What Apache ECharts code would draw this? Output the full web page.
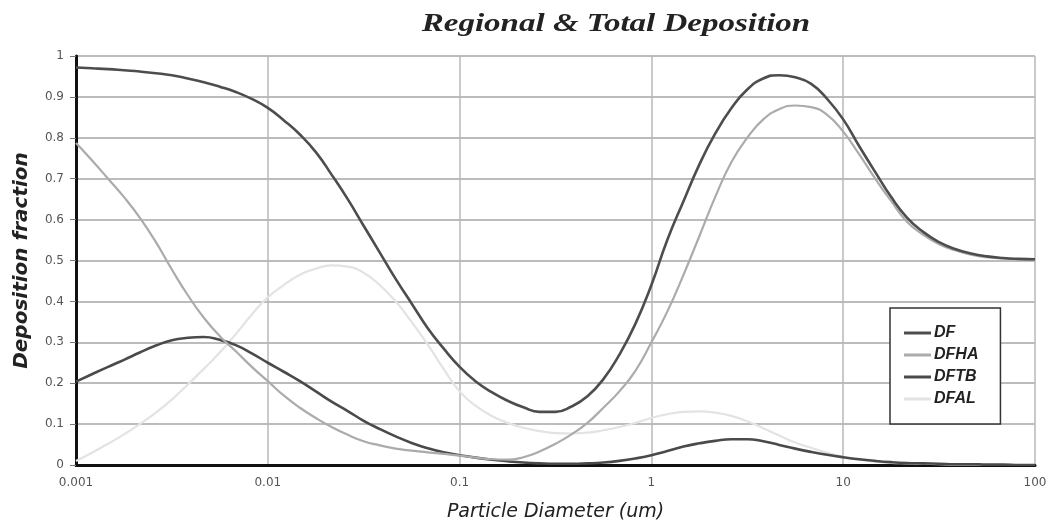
<!DOCTYPE html>
<html>
<head>
<meta charset="utf-8">
<script src="https://cdn.jsdelivr.net/npm/echarts@6/dist/echarts.min.js"></script>
<style>
html,body{margin:0;padding:0;background:#fff;}
#chart{width:1049px;height:524px;}
</style>
</head>
<body>
<div id="chart"></div>
<script>
// Particle diameters (um), read at evenly spaced log positions (1/12 decade)
const diameters = [
  0.001, 0.00121, 0.00147, 0.00178, 0.00215, 0.00261, 0.00316, 0.00383, 0.00464, 0.00562, 0.00681, 0.00825,
  0.01, 0.0121, 0.0147, 0.0178, 0.0215, 0.0261, 0.0316, 0.0383, 0.0464, 0.0562, 0.0681, 0.0825,
  0.1, 0.121, 0.147, 0.178, 0.215, 0.261, 0.316, 0.383, 0.464, 0.562, 0.681, 0.825,
  1, 1.21, 1.47, 1.78, 2.15, 2.61, 3.16, 3.83, 4.64, 5.62, 6.81, 8.25,
  10, 12.1, 14.7, 17.8, 21.5, 26.1, 31.6, 38.3, 46.4, 56.2, 68.1, 82.5, 100];
const DF = [
  0.972, 0.970, 0.968, 0.965, 0.962, 0.958, 0.953, 0.945, 0.936, 0.925, 0.912, 0.895,
  0.873, 0.843, 0.808, 0.765, 0.71, 0.65, 0.585, 0.52, 0.455, 0.395, 0.335, 0.285,
  0.24, 0.205, 0.178, 0.157, 0.141, 0.13, 0.13, 0.143, 0.168, 0.21, 0.27, 0.345,
  0.44, 0.55, 0.645, 0.735, 0.81, 0.872, 0.918, 0.945, 0.953, 0.948, 0.932, 0.895,
  0.845, 0.78, 0.716, 0.655, 0.605, 0.57, 0.545, 0.528, 0.517, 0.51, 0.506, 0.504, 0.503];
const DFHA = [
  0.787, 0.745, 0.70, 0.655, 0.605, 0.545, 0.478, 0.415, 0.36, 0.315, 0.278, 0.24,
  0.205, 0.17, 0.14, 0.115, 0.093, 0.074, 0.058, 0.048, 0.04, 0.035, 0.031, 0.027,
  0.023, 0.018, 0.014, 0.013, 0.019, 0.033, 0.052, 0.075, 0.103, 0.14, 0.18, 0.23,
  0.30, 0.375, 0.465, 0.56, 0.655, 0.74, 0.80, 0.845, 0.87, 0.879, 0.875, 0.856,
  0.815, 0.76, 0.70, 0.645, 0.595, 0.563, 0.54, 0.525, 0.514, 0.508, 0.505, 0.503, 0.502];
const DFTB = [
  0.204, 0.222, 0.24, 0.257, 0.275, 0.292, 0.305, 0.311, 0.313, 0.306, 0.293, 0.273,
  0.25, 0.228, 0.205, 0.18, 0.155, 0.132, 0.108, 0.088, 0.07, 0.054, 0.041, 0.031,
  0.024, 0.018, 0.013, 0.009, 0.006, 0.004, 0.003, 0.003, 0.004, 0.006, 0.01, 0.016,
  0.024, 0.034, 0.045, 0.053, 0.059, 0.063, 0.063, 0.058, 0.049, 0.04, 0.032, 0.025,
  0.019, 0.014, 0.01, 0.007, 0.005, 0.004, 0.003, 0.002, 0.002, 0.001, 0.001, 0, 0];
const DFAL = [
  0.01, 0.03, 0.052, 0.075, 0.1, 0.128, 0.16, 0.197, 0.235, 0.275, 0.32, 0.368,
  0.41, 0.44, 0.465, 0.48, 0.488, 0.485, 0.47, 0.44, 0.40, 0.35, 0.295, 0.235,
  0.18, 0.145, 0.12, 0.103, 0.091, 0.083, 0.078, 0.077, 0.079, 0.085, 0.093, 0.103,
  0.115, 0.124, 0.13, 0.131, 0.128, 0.12, 0.107, 0.09, 0.072, 0.055, 0.042, 0.03,
  0.02, 0.013, 0.008, 0.005, 0.004, 0.003, 0.002, 0.001, 0.001, 0, 0, 0, 0];
const seriesNames = ['DF', 'DFHA', 'DFTB', 'DFAL'];
const xTickLabels = {0.001: '0.001', 0.01: '0.01', 0.1: '0.1', 1: '1', 10: '10', 100: '100'};
const titleText = 'Regional & Total Deposition';

const pairs = arr => diameters.map((d, i) => [d, arr[i]]);
const colors = ['#4d4d4d', '#ababab', '#4a4a4a', '#e3e3e3'];
const widths = [2.6, 2.2, 2.6, 2.2];
const allData = [DF, DFHA, DFTB, DFAL];

const chart = echarts.init(document.getElementById('chart'));
chart.setOption({
  backgroundColor: '#fff',
  animation: false,
  graphic: [{
    type: 'text', x: 616, y: 25, scaleX: 1.32, scaleY: 1,
    style: {text: titleText, fill: '#222', textAlign: 'center', textVerticalAlign: 'middle',
      font: 'italic bold 25px "Liberation Serif"'}
  }],
  grid: {left: 76, right: 14, top: 56, bottom: 59, containLabel: false, outerBoundsMode: 'none'},
  legend: {
    orient: 'vertical', left: 890, top: 308,
    padding: [17, 22, 17, 14], itemGap: 6, itemWidth: 27, itemHeight: 3,
    icon: 'rect',
    backgroundColor: '#fff', borderColor: '#333', borderWidth: 1.5,
    textStyle: {fontFamily: 'Liberation Sans', fontStyle: 'italic', fontWeight: 'bold', fontSize: 16, color: '#222', padding: [0, 0, 0, -2], lineHeight: 16},
    data: seriesNames
  },
  xAxis: {
    type: 'log', logBase: 10, min: 0.001, max: 100,
    name: 'Particle Diameter (um)', nameLocation: 'middle', nameGap: 38,
    nameTextStyle: {fontFamily: 'DejaVu Sans', fontStyle: 'italic', fontSize: 19, color: '#222'},
    axisLine: {lineStyle: {color: '#111', width: 3}},
    axisTick: {show: false},
    axisLabel: {fontFamily: 'DejaVu Sans', fontSize: 12, color: '#555', margin: 12,
      formatter: v => xTickLabels[v] !== undefined ? xTickLabels[v] : String(v)},
    splitLine: {show: true, lineStyle: {color: '#b8b8b8', width: 1.5}},
    minorSplitLine: {show: false}
  },
  yAxis: {
    type: 'value', min: 0, max: 1, interval: 0.1,
    name: 'Deposition fraction', nameLocation: 'middle', nameGap: 44,
    nameTextStyle: {fontFamily: 'DejaVu Sans', fontStyle: 'italic', fontWeight: 'bold', fontSize: 20, color: '#222'},
    axisLine: {show: true, lineStyle: {color: '#111', width: 3}},
    axisTick: {show: true, length: 6, lineStyle: {color: '#777', width: 1}},
    axisLabel: {fontFamily: 'DejaVu Sans', fontSize: 12, color: '#555', margin: 12,
      formatter: v => String(Math.round(v * 10) / 10)},
    splitLine: {show: true, lineStyle: {color: '#bcbcbc', width: 2}}
  },
  series: seriesNames.map((n, i) => ({
    name: n, type: 'line', smooth: 0.5, symbol: 'none',
    data: pairs(allData[i]),
    lineStyle: {color: colors[i], width: widths[i]},
    itemStyle: {color: colors[i]},
    z: 10 - i
  }))
});
</script>
</body>
</html>
